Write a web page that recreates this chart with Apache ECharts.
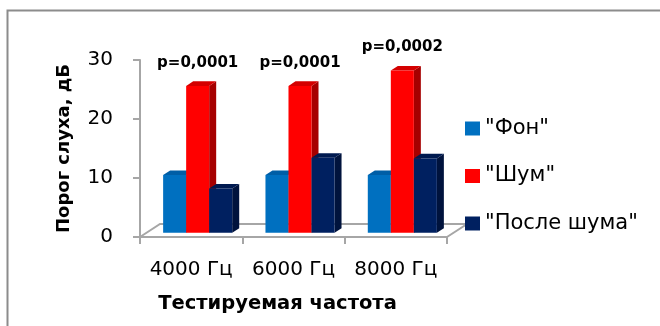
<!DOCTYPE html>
<html>
<head>
<meta charset="utf-8">
<script src="https://cdn.jsdelivr.net/npm/echarts@6/dist/echarts.min.js"></script>
<style>
  html, body { margin: 0; padding: 0; background: #fff; }
  #chart { width: 660px; height: 326px; }
</style>
</head>
<body>
<div id="chart"></div>
<script>
// Hearing threshold (dB) by test frequency
const categories = ['4000 Гц', '6000 Гц', '8000 Гц'];
const seriesNames = ['"Фон"', '"Шум"', '"После шума"'];
const fon = [9.8, 9.8, 9.8];
const shum = [24.9, 24.9, 27.5];
const posle = [7.5, 12.7, 12.6];
const pLabels = ['p=0,0001', 'p=0,0001', 'p=0,0002'];
const yMin = 0, yMax = 30, yStep = 10;

const FONT = 'DejaVu Sans';
const GREY = '#a6a6a6';

// face colours: front, top, side
const palettes = [
  { front: '#0070c0', top: '#005ea6', side: '#004f8c' },
  { front: '#ff0000', top: '#d40000', side: '#a60000' },
  { front: '#002060', top: '#001a50', side: '#00133d' }
];

// pseudo-3D geometry (pixels)
const FRONT_DX = 6.5, FRONT_DY = -4.2;   // bar front plane offset from the axis plane
const DEPTH_DX = 7, DEPTH_DY = -4.6;     // bar depth
const FLOOR_DX = 20, FLOOR_DY = -13;     // floor depth
const BAR_FRAC = 0.225;                  // bar width as share of category band

function barRenderer(seriesIndex, withLabels) {
  return function (params, api) {
    const i = api.value(0);
    const v = api.value(1);
    const base = api.coord([i, 0]);
    const top = api.coord([i, v]);
    const band = api.size([1, 0])[0];
    const bw = band * BAR_FRAC;
    const x0 = base[0] - 1.5 * bw + seriesIndex * bw + FRONT_DX;
    const yb = base[1] + FRONT_DY;
    const yt = top[1] + FRONT_DY;
    const c = palettes[seriesIndex];
    const children = [
      {
        type: 'polygon',
        shape: { points: [[x0 + bw, yt], [x0 + bw + DEPTH_DX, yt + DEPTH_DY], [x0 + bw + DEPTH_DX, yb + DEPTH_DY], [x0 + bw, yb]] },
        style: { fill: c.side }
      },
      {
        type: 'polygon',
        shape: { points: [[x0, yt], [x0 + bw, yt], [x0 + bw + DEPTH_DX, yt + DEPTH_DY], [x0 + DEPTH_DX, yt + DEPTH_DY]] },
        style: { fill: c.top }
      },
      {
        type: 'rect',
        shape: { x: x0, y: yt, width: bw, height: yb - yt },
        style: { fill: c.front }
      }
    ];
    if (withLabels) {
      children.push({
        type: 'text',
        style: {
          x: x0 + bw / 2, y: yt - 23,
          text: pLabels[i],
          fill: '#000',
          font: 'bold 15px "' + FONT + '"',
          align: 'center', verticalAlign: 'middle'
        }
      });
    }
    return { type: 'group', children: children };
  };
}

function floorRenderer(params, api) {
  const n = categories.length;
  const band = api.size([1, 0])[0];
  const left = api.coord([0, 0]);
  const right = api.coord([n - 1, 0]);
  const L = left[0] - band / 2;
  const R = right[0] + band / 2;
  const y = left[1];
  return {
    type: 'polyline',
    shape: { points: [[L, y], [L + FLOOR_DX, y + FLOOR_DY], [R + FLOOR_DX, y + FLOOR_DY], [R, y]] },
    style: { stroke: GREY, lineWidth: 2, fill: null }
  };
}

const valueSets = [fon, shum, posle];
const series = [
  {
    type: 'custom',
    name: 'floor',
    renderItem: floorRenderer,
    data: [[0, 0]],
    clip: false,
    silent: true,
    z: 1
  }
];
valueSets.forEach(function (vals, s) {
  series.push({
    type: 'custom',
    name: seriesNames[s],
    renderItem: barRenderer(s, s === 1),
    itemStyle: { color: palettes[s].front },
    data: vals.map(function (v, i) { return [i, v]; }),
    clip: false,
    z: 2 + s
  });
});

const chart = echarts.init(document.getElementById('chart'), null, { renderer: 'canvas' });
chart.setOption({
  animation: false,
  backgroundColor: '#ffffff',
  textStyle: { fontFamily: FONT },
  graphic: [
    {
      type: 'rect',
      shape: { x: 7.5, y: 10.5, width: 700, height: 400 },
      style: { fill: null, stroke: '#8c8c8c', lineWidth: 2 },
      z: -10
    }
  ],
  grid: { left: 140, top: 60, right: 213, bottom: 89, containLabel: false },
  legend: {
    data: seriesNames.map(function (n, s) { return { name: n, itemStyle: { color: palettes[s].front } }; }),
    orient: 'vertical',
    left: 460,
    top: 113,
    icon: 'rect',
    itemWidth: 15,
    itemHeight: 14,
    itemGap: 26.5,
    textStyle: { fontFamily: FONT, fontSize: 21, color: '#000', lineHeight: 20, padding: [0, 0, 0, 0] }
  },
  xAxis: {
    type: 'category',
    data: categories,
    boundaryGap: true,
    axisLine: { show: true, lineStyle: { color: GREY, width: 2 } },
    axisTick: { show: true, length: 7, lineStyle: { color: GREY, width: 2 } },
    axisLabel: { fontFamily: FONT, fontSize: 20, color: '#000', margin: 23, interval: 0, hideOverlap: false },
    name: 'Тестируемая частота',
    nameLocation: 'middle',
    nameGap: 57,
    nameTextStyle: { fontFamily: FONT, fontSize: 19.5, fontWeight: 'bold', color: '#000', padding: [0, 32, 0, 0] }
  },
  yAxis: {
    type: 'value',
    min: yMin,
    max: yMax,
    interval: yStep,
    splitLine: { show: false },
    axisLine: { show: true, lineStyle: { color: GREY, width: 2 } },
    axisTick: { show: true, length: 7, lineStyle: { color: GREY, width: 2 } },
    axisLabel: { fontFamily: FONT, fontSize: 20, color: '#000', margin: 27 },
    name: 'Порог слуха, дБ',
    nameLocation: 'middle',
    nameRotate: 90,
    nameGap: 67,
    nameTextStyle: { fontFamily: FONT, fontSize: 18, fontWeight: 'bold', color: '#000' }
  },
  series: series
});
</script>
</body>
</html>
